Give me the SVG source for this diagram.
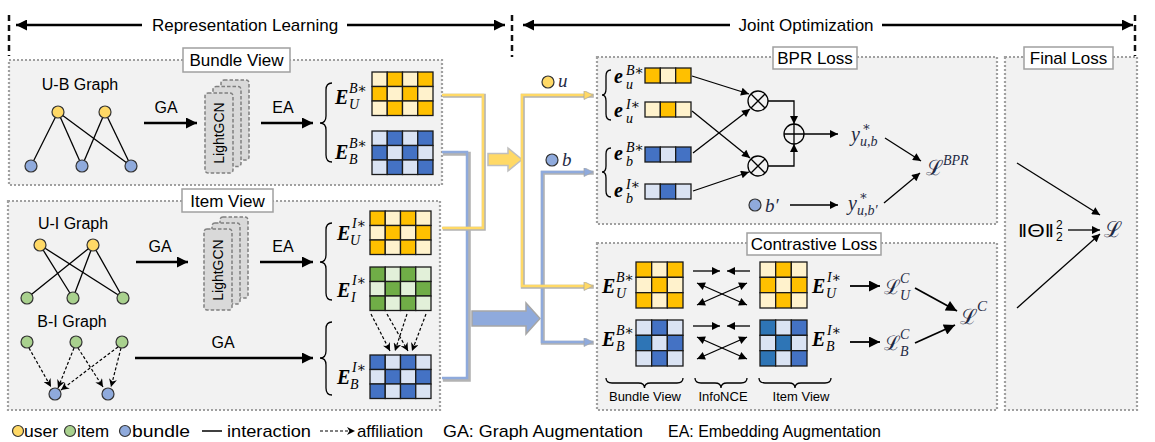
<svg xmlns="http://www.w3.org/2000/svg" width="1155" height="442" viewBox="0 0 1155 442">
<defs>
<style>
.sans{font-family:"Liberation Sans",Arial,sans-serif;fill:#000}
.panel{fill:#f2f2f2;stroke:#a0a0a0;stroke-width:2.2;stroke-dasharray:2 2}
.lbox{fill:#fff;stroke:#a0a0a0;stroke-width:1.5}
.lt{font-size:17px;text-anchor:middle}
.E{font-family:"Liberation Serif","Times New Roman",serif;font-weight:bold;font-style:italic;font-size:20px;fill:#000}
.mi{font-family:"Liberation Serif","DejaVu Serif",serif;font-style:italic;fill:#000}
.sc{font-family:"DejaVu Serif","Liberation Serif",serif;fill:#1f2a44}
.nv{fill:#1f2a44}
.c{stroke:#1a1a1a;stroke-width:1.3}
.G{fill:#FFC000}.Gl{fill:#FFF2CC}.B{fill:#4472C4}.Bl{fill:#DAE3F3}.B2{fill:#2E75B6}.R{fill:#70AD47}.Rl{fill:#E2F0D9}
.nu{fill:#FFD966;stroke:#333;stroke-width:1.2}
.ni{fill:#A9D18E;stroke:#333;stroke-width:1.2}
.nb{fill:#8FAADC;stroke:#333;stroke-width:1.2}
.edge{stroke:#000;stroke-width:1.3;fill:none}
.dash{stroke:#000;stroke-width:1.2;stroke-dasharray:3 2;fill:none}
.thick{stroke:#000;stroke-width:2.5;fill:none}
.med{stroke:#000;stroke-width:1.8;fill:none}
.thin{stroke:#000;stroke-width:1.3;fill:none}
.gcn{fill:#d9d9d9;stroke:#7f7f7f;stroke-width:1.5;stroke-dasharray:3.5 2}
.brace{fill:none;stroke:#000;stroke-width:1.3}
.vdash{stroke:#111;stroke-width:2.5;stroke-dasharray:6 4}
.shadow{fill:none;stroke:#b3b3b3;stroke-width:4}
.yl{fill:none;stroke:#FFD966;stroke-width:2.5}
.bl{fill:none;stroke:#8FAADC;stroke-width:2.5}
</style>
<marker id="a1" viewBox="0 0 10 10" refX="10" refY="5" markerUnits="userSpaceOnUse" markerWidth="15" markerHeight="11" orient="auto-start-reverse"><path d="M0,0L10,5L0,10z" fill="#000"/></marker>
<marker id="a2" viewBox="0 0 10 10" refX="10" refY="5" markerUnits="userSpaceOnUse" markerWidth="11" markerHeight="8" orient="auto-start-reverse"><path d="M0,0L10,5L0,10z" fill="#000"/></marker>
<marker id="a3" viewBox="0 0 10 10" refX="10" refY="5" markerUnits="userSpaceOnUse" markerWidth="10" markerHeight="8" orient="auto-start-reverse"><path d="M0,0L10,5L0,10L3,5z" fill="#000"/></marker>
<marker id="ay" viewBox="0 0 10 10" refX="10" refY="5" markerUnits="userSpaceOnUse" markerWidth="12" markerHeight="9" orient="auto-start-reverse"><path d="M0,0L10,5L0,10z" fill="#FFD966" stroke="#a6a6a6" stroke-width="0.8"/></marker>
<marker id="ab" viewBox="0 0 10 10" refX="10" refY="5" markerUnits="userSpaceOnUse" markerWidth="12" markerHeight="9" orient="auto-start-reverse"><path d="M0,0L10,5L0,10z" fill="#8FAADC" stroke="#a6a6a6" stroke-width="0.8"/></marker>
</defs>
<rect width="1155" height="442" fill="#fff"/>

<g id="headers">
<line class="vdash" x1="9" y1="15" x2="9" y2="56"/>
<line class="vdash" x1="512" y1="15" x2="512" y2="57"/>
<line class="vdash" x1="1135" y1="15" x2="1135" y2="56"/>
<line class="thick" x1="142" y1="25" x2="16" y2="25" marker-end="url(#a1)"/>
<line class="thick" x1="347" y1="25" x2="505" y2="25" marker-end="url(#a1)"/>
<line class="thick" x1="730" y1="25" x2="523" y2="25" marker-end="url(#a1)"/>
<line class="thick" x1="882" y1="25" x2="1133" y2="25" marker-end="url(#a1)"/>
<text class="sans" x="245" y="31" font-size="17" text-anchor="middle">Representation Learning</text>
<text class="sans" x="806" y="31" font-size="17" text-anchor="middle">Joint Optimization</text>
</g>

<g id="bundle-view">
<rect class="panel" x="9" y="60" width="433" height="125"/>
<rect class="lbox" x="183" y="48" width="107" height="24"/>
<text class="sans lt" x="236.5" y="66">Bundle View</text>
<text class="sans" x="80" y="90" font-size="16" text-anchor="middle">U-B Graph</text>
</g>
<g id="item-view">
<rect class="panel" x="8" y="201" width="432" height="209"/>
<rect class="lbox" x="182" y="189" width="91" height="23"/>
<text class="sans lt" x="227.5" y="207">Item View</text>
<text class="sans" x="73" y="229" font-size="16" text-anchor="middle">U-I Graph</text>
<text class="sans" x="72" y="327" font-size="16" text-anchor="middle">B-I Graph</text>
</g>
<g id="bpr-loss">
<rect class="panel" x="597" y="57" width="400" height="167"/>
<rect class="lbox" x="773" y="47" width="84" height="22"/>
<text class="sans lt" x="815" y="64">BPR Loss</text>
</g>
<g id="contrastive-loss">
<rect class="panel" x="597" y="243" width="400" height="167"/>
<rect class="lbox" x="747" y="233" width="134" height="22"/>
<text class="sans lt" x="814" y="250">Contrastive Loss</text>
</g>
<g id="final-loss">
<rect class="panel" x="1005" y="57" width="132" height="353"/>
<rect class="lbox" x="1024" y="47" width="89" height="22"/>
<text class="sans lt" x="1068.5" y="64">Final Loss</text>
</g>

<g id="connectors">
<line class="edge" x1="58" y1="112" x2="31" y2="166"/>
<line class="edge" x1="58" y1="112" x2="82" y2="166"/>
<line class="edge" x1="58" y1="112" x2="131" y2="166"/>
<line class="edge" x1="105" y1="112" x2="82" y2="166"/>
<line class="edge" x1="105" y1="112" x2="131" y2="166"/>
<line class="edge" x1="40" y1="245" x2="73" y2="298"/>
<line class="edge" x1="40" y1="245" x2="123" y2="298"/>
<line class="edge" x1="93" y1="245" x2="27" y2="298"/>
<line class="edge" x1="93" y1="245" x2="73" y2="298"/>
<line class="edge" x1="93" y1="245" x2="123" y2="298"/>
<line class="dash" x1="29" y1="348" x2="51" y2="387" marker-end="url(#a3)"/>
<line class="dash" x1="74" y1="348" x2="58" y2="388" marker-end="url(#a3)"/>
<line class="dash" x1="78" y1="348" x2="103" y2="387" marker-end="url(#a3)"/>
<line class="dash" x1="118" y1="347" x2="61" y2="390" marker-end="url(#a3)"/>
<line class="dash" x1="121" y1="348" x2="111" y2="387" marker-end="url(#a3)"/>
<line class="thick" x1="144" y1="123" x2="197" y2="123" marker-end="url(#a1)"/>
<line class="thick" x1="261" y1="123" x2="313" y2="123" marker-end="url(#a1)"/>
<line class="thick" x1="136" y1="262" x2="188" y2="262" marker-end="url(#a1)"/>
<line class="thick" x1="260" y1="262" x2="313" y2="262" marker-end="url(#a1)"/>
<line class="thick" x1="135" y1="358" x2="313" y2="358" marker-end="url(#a1)"/>
<line class="dash" x1="371" y1="314" x2="390" y2="351" marker-end="url(#a3)"/>
<line class="dash" x1="387" y1="314" x2="408" y2="351" marker-end="url(#a3)"/>
<line class="dash" x1="407" y1="314" x2="395" y2="351" marker-end="url(#a3)"/>
<line class="dash" x1="426" y1="314" x2="412" y2="351" marker-end="url(#a3)"/>
<path class="shadow" d="M442,153 H468 V379 H442" transform="translate(0.8,0.8)"/>
<path class="bl" d="M442,152 H467 V378 H442"/>
<path class="shadow" d="M442,95 H483 V228 H442" transform="translate(0.8,0.8)"/>
<path class="yl" d="M442,95 H483 V228 H442"/>
<path d="M472,311 H526 V303 L540,318.5 L526,334 V326 H472 Z" fill="#8FAADC" stroke="#a6a6a6" stroke-width="1.5"/>
<path d="M488,153.5 H508 V148 L522,159.5 L508,171 V165.5 H488 Z" fill="#FFD966" stroke="#bfbfbf" stroke-width="1.5"/>
<path class="shadow" d="M593,172 H542 V342 H593" transform="translate(0.8,0.8)"/>
<path class="bl" d="M593,172 H542 V342 H593" marker-start="url(#ab)" marker-end="url(#ab)"/>
<path class="shadow" d="M593,95 H522 V286 H593" transform="translate(0.8,0.8)"/>
<path class="yl" d="M593,95 H522 V286 H593" marker-start="url(#ay)" marker-end="url(#ay)"/>
<line class="thin" x1="692" y1="76" x2="749" y2="94" marker-end="url(#a2)"/>
<line class="thin" x1="692" y1="111" x2="750" y2="158" marker-end="url(#a2)"/>
<line class="thin" x1="693" y1="153" x2="750" y2="109" marker-end="url(#a2)"/>
<line class="thin" x1="693" y1="191" x2="749" y2="172" marker-end="url(#a2)"/>
<path class="thin" d="M768,101 H794 V124" marker-end="url(#a2)"/>
<path class="thin" d="M768,166 H794 V144" marker-end="url(#a2)"/>
<line class="thin" x1="804" y1="134" x2="838" y2="134" marker-end="url(#a2)"/>
<line class="thin" x1="790" y1="205" x2="838" y2="205" marker-end="url(#a2)"/>
<line class="thin" x1="885" y1="138" x2="921" y2="161" marker-end="url(#a2)"/>
<line class="thin" x1="884" y1="203" x2="920" y2="173" marker-end="url(#a2)"/>
<line class="thin" x1="693" y1="271" x2="720" y2="271" marker-end="url(#a2)"/>
<line class="thin" x1="750" y1="271" x2="727" y2="271" marker-end="url(#a2)"/>
<line class="thin" x1="697" y1="283" x2="747" y2="305" marker-start="url(#a2)" marker-end="url(#a2)"/>
<line class="thin" x1="697" y1="305" x2="747" y2="283" marker-start="url(#a2)" marker-end="url(#a2)"/>
<line class="thin" x1="693" y1="326" x2="720" y2="326" marker-end="url(#a2)"/>
<line class="thin" x1="750" y1="326" x2="727" y2="326" marker-end="url(#a2)"/>
<line class="thin" x1="697" y1="337" x2="747" y2="359" marker-start="url(#a2)" marker-end="url(#a2)"/>
<line class="thin" x1="697" y1="359" x2="747" y2="337" marker-start="url(#a2)" marker-end="url(#a2)"/>
<line class="med" x1="850" y1="286" x2="880" y2="286" marker-end="url(#a1)"/>
<line class="med" x1="850" y1="342" x2="880" y2="342" marker-end="url(#a1)"/>
<line class="med" x1="915" y1="288" x2="957" y2="311" marker-end="url(#a1)"/>
<line class="med" x1="915" y1="343" x2="955" y2="325" marker-end="url(#a1)"/>
<line class="thin" x1="1017" y1="163" x2="1100" y2="215" marker-end="url(#a2)"/>
<line class="thin" x1="1017" y1="308" x2="1100" y2="234" marker-end="url(#a2)"/>
<line class="thin" x1="1068" y1="230" x2="1100" y2="230" marker-end="url(#a2)"/>
</g>

<g id="ub-graph-nodes">
<circle class="nu" cx="58" cy="112" r="6"/><circle class="nu" cx="105" cy="112" r="6"/>
<circle class="nb" cx="31" cy="166" r="6"/><circle class="nb" cx="82" cy="166" r="6"/><circle class="nb" cx="131" cy="166" r="6"/>
</g>
<g id="ui-graph-nodes">
<circle class="nu" cx="40" cy="245" r="6"/><circle class="nu" cx="93" cy="245" r="6"/>
<circle class="ni" cx="27" cy="298" r="6"/><circle class="ni" cx="73" cy="298" r="6"/><circle class="ni" cx="123" cy="298" r="6"/>
</g>
<g id="bi-graph-nodes">
<circle class="ni" cx="27" cy="342" r="6"/><circle class="ni" cx="76" cy="342" r="6"/><circle class="ni" cx="122" cy="342" r="6"/>
<circle class="nb" cx="55" cy="394" r="6"/><circle class="nb" cx="108" cy="394" r="6"/>
</g>

<g id="aug-labels" class="sans" font-size="16" text-anchor="middle">
<text x="166" y="113">GA</text><text x="283" y="113">EA</text>
<text x="160" y="252">GA</text><text x="283" y="252">EA</text>
<text x="223" y="348">GA</text>
</g>

<g id="lightgcn-1">
<rect class="gcn" x="221" y="80" width="28" height="80" rx="3"/>
<rect class="gcn" x="213" y="86.5" width="28" height="80" rx="3"/>
<rect class="gcn" x="205" y="93" width="28" height="80" rx="3"/>
<text class="sans" font-size="14" text-anchor="middle" transform="translate(224,133) rotate(-90)">LightGCN</text>
</g>
<g id="lightgcn-2">
<rect class="gcn" x="220" y="217" width="28" height="81" rx="3"/>
<rect class="gcn" x="212" y="223" width="28" height="81" rx="3"/>
<rect class="gcn" x="204" y="229" width="28" height="81" rx="3"/>
<text class="sans" font-size="14" text-anchor="middle" transform="translate(223,270) rotate(-90)">LightGCN</text>
</g>

<g id="braces">
<path class="brace" d="M332,83 Q326,83 326,90 V116 Q326,123 320,123 Q326,123 326,130 V155 Q326,162 332,162"/>
<path class="brace" d="M332,223 Q326,223 326,230 V255 Q326,262 320,262 Q326,262 326,269 V293 Q326,300 332,300"/>
<path class="brace" d="M332,322 Q326,322 326,329 V351 Q326,358 320,358 Q326,358 326,365 V388 Q326,395 332,395"/>
<path class="brace" d="M611,70 Q606,70 606,76 V89 Q606,95 602,95 Q606,95 606,101 V114 Q606,120 611,120"/>
<path class="brace" d="M611,148 Q606,148 606,154 V166 Q606,172 602,172 Q606,172 606,178 V191 Q606,197 611,197"/>
<path class="brace" d="M606,378 Q606,383 612,383 H638.5 Q644.5,383 644.5,388 Q644.5,383 650.5,383 H677 Q683,383 683,378"/>
<path class="brace" d="M695,378 Q695,383 701,383 H715 Q721,383 721,388 Q721,383 727,383 H741 Q747,383 747,378"/>
<path class="brace" d="M759,378 Q759,383 765,383 H789 Q795,383 795,388 Q795,383 801,383 H825 Q831,383 831,378"/>
<g class="sans" font-size="13" text-anchor="middle">
<text x="645" y="401">Bundle View</text><text x="723" y="401">InfoNCE</text><text x="801" y="401">Item View</text>
</g>
</g>

<g id="emb-UB" transform="translate(372,72)">
<rect class="c Gl" x="0" y="0" width="15.25" height="14.5"/><rect class="c G" x="15.25" y="0" width="15.25" height="14.5"/><rect class="c Gl" x="30.5" y="0" width="15.25" height="14.5"/><rect class="c G" x="45.75" y="0" width="15.25" height="14.5"/>
<rect class="c G" x="0" y="14.5" width="15.25" height="14.5"/><rect class="c Gl" x="15.25" y="14.5" width="15.25" height="14.5"/><rect class="c G" x="30.5" y="14.5" width="15.25" height="14.5"/><rect class="c Gl" x="45.75" y="14.5" width="15.25" height="14.5"/>
<rect class="c Gl" x="0" y="29" width="15.25" height="14.5"/><rect class="c G" x="15.25" y="29" width="15.25" height="14.5"/><rect class="c Gl" x="30.5" y="29" width="15.25" height="14.5"/><rect class="c G" x="45.75" y="29" width="15.25" height="14.5"/>
</g>
<g id="emb-BB" transform="translate(372,131)">
<rect class="c Bl" x="0" y="0" width="15.25" height="14.5"/><rect class="c B" x="15.25" y="0" width="15.25" height="14.5"/><rect class="c Bl" x="30.5" y="0" width="15.25" height="14.5"/><rect class="c B" x="45.75" y="0" width="15.25" height="14.5"/>
<rect class="c B" x="0" y="14.5" width="15.25" height="14.5"/><rect class="c Bl" x="15.25" y="14.5" width="15.25" height="14.5"/><rect class="c B" x="30.5" y="14.5" width="15.25" height="14.5"/><rect class="c Bl" x="45.75" y="14.5" width="15.25" height="14.5"/>
<rect class="c Bl" x="0" y="29" width="15.25" height="14.5"/><rect class="c B" x="15.25" y="29" width="15.25" height="14.5"/><rect class="c Bl" x="30.5" y="29" width="15.25" height="14.5"/><rect class="c B" x="45.75" y="29" width="15.25" height="14.5"/>
</g>
<g id="emb-UI" transform="translate(370,211)">
<rect class="c G" x="0" y="0" width="15.25" height="14.5"/><rect class="c Gl" x="15.25" y="0" width="15.25" height="14.5"/><rect class="c G" x="30.5" y="0" width="15.25" height="14.5"/><rect class="c Gl" x="45.75" y="0" width="15.25" height="14.5"/>
<rect class="c Gl" x="0" y="14.5" width="15.25" height="14.5"/><rect class="c G" x="15.25" y="14.5" width="15.25" height="14.5"/><rect class="c Gl" x="30.5" y="14.5" width="15.25" height="14.5"/><rect class="c G" x="45.75" y="14.5" width="15.25" height="14.5"/>
<rect class="c G" x="0" y="29" width="15.25" height="14.5"/><rect class="c Gl" x="15.25" y="29" width="15.25" height="14.5"/><rect class="c G" x="30.5" y="29" width="15.25" height="14.5"/><rect class="c Gl" x="45.75" y="29" width="15.25" height="14.5"/>
</g>
<g id="emb-II" transform="translate(370,267)">
<rect class="c R" x="0" y="0" width="15.25" height="14.5"/><rect class="c Rl" x="15.25" y="0" width="15.25" height="14.5"/><rect class="c R" x="30.5" y="0" width="15.25" height="14.5"/><rect class="c Rl" x="45.75" y="0" width="15.25" height="14.5"/>
<rect class="c Rl" x="0" y="14.5" width="15.25" height="14.5"/><rect class="c R" x="15.25" y="14.5" width="15.25" height="14.5"/><rect class="c Rl" x="30.5" y="14.5" width="15.25" height="14.5"/><rect class="c R" x="45.75" y="14.5" width="15.25" height="14.5"/>
<rect class="c R" x="0" y="29" width="15.25" height="14.5"/><rect class="c Rl" x="15.25" y="29" width="15.25" height="14.5"/><rect class="c R" x="30.5" y="29" width="15.25" height="14.5"/><rect class="c Rl" x="45.75" y="29" width="15.25" height="14.5"/>
</g>
<g id="emb-BI" transform="translate(370,355)">
<rect class="c B" x="0" y="0" width="15.25" height="14.5"/><rect class="c Bl" x="15.25" y="0" width="15.25" height="14.5"/><rect class="c B" x="30.5" y="0" width="15.25" height="14.5"/><rect class="c Bl" x="45.75" y="0" width="15.25" height="14.5"/>
<rect class="c Bl" x="0" y="14.5" width="15.25" height="14.5"/><rect class="c B" x="15.25" y="14.5" width="15.25" height="14.5"/><rect class="c Bl" x="30.5" y="14.5" width="15.25" height="14.5"/><rect class="c B" x="45.75" y="14.5" width="15.25" height="14.5"/>
<rect class="c B" x="0" y="29" width="15.25" height="14.5"/><rect class="c Bl" x="15.25" y="29" width="15.25" height="14.5"/><rect class="c B" x="30.5" y="29" width="15.25" height="14.5"/><rect class="c Bl" x="45.75" y="29" width="15.25" height="14.5"/>
</g>

<g id="emb-labels">
<text><tspan class="E" x="335" y="104">E</tspan><tspan class="mi" font-size="14" x="349" y="93">B∗</tspan><tspan class="mi" font-size="14" x="349" y="109">U</tspan></text>
<text><tspan class="E" x="335" y="159">E</tspan><tspan class="mi" font-size="14" x="349" y="148">B∗</tspan><tspan class="mi" font-size="14" x="349" y="164">B</tspan></text>
<text><tspan class="E" x="337" y="240">E</tspan><tspan class="mi" font-size="14" x="352" y="228">I∗</tspan><tspan class="mi" font-size="14" x="350" y="245">U</tspan></text>
<text><tspan class="E" x="337" y="297">E</tspan><tspan class="mi" font-size="14" x="352" y="285">I∗</tspan><tspan class="mi" font-size="14" x="351" y="302">I</tspan></text>
<text><tspan class="E" x="337" y="384">E</tspan><tspan class="mi" font-size="14" x="352" y="372">I∗</tspan><tspan class="mi" font-size="14" x="350" y="389">B</tspan></text>
</g>

<g id="node-u"><circle class="nu" cx="548" cy="82" r="6"/><text class="mi nv" x="558" y="87" font-size="19">u</text></g>
<g id="node-b"><circle class="nb" cx="552" cy="160" r="6"/><text class="mi nv" x="562" y="166" font-size="19">b</text></g>

<g id="vec-uB" transform="translate(645,68)">
<rect class="c G" x="0" y="0" width="15.33" height="15"/><rect class="c Gl" x="15.33" y="0" width="15.33" height="15"/><rect class="c G" x="30.67" y="0" width="15.33" height="15"/>
</g>
<g id="vec-uI" transform="translate(645,102)">
<rect class="c Gl" x="0" y="0" width="15.33" height="15"/><rect class="c G" x="15.33" y="0" width="15.33" height="15"/><rect class="c Gl" x="30.67" y="0" width="15.33" height="15"/>
</g>
<g id="vec-bB" transform="translate(645,147)">
<rect class="c B" x="0" y="0" width="15.33" height="15"/><rect class="c Bl" x="15.33" y="0" width="15.33" height="15"/><rect class="c B" x="30.67" y="0" width="15.33" height="15"/>
</g>
<g id="vec-bI" transform="translate(645,184)">
<rect class="c Bl" x="0" y="0" width="15.33" height="15"/><rect class="c B" x="15.33" y="0" width="15.33" height="15"/><rect class="c Bl" x="30.67" y="0" width="15.33" height="15"/>
</g>
<g id="bpr-labels">
<text><tspan class="E" x="614" y="83">e</tspan><tspan class="mi" font-size="14" x="626" y="75">B∗</tspan><tspan class="mi" font-size="14" x="626" y="89">u</tspan></text>
<text><tspan class="E" x="614" y="117">e</tspan><tspan class="mi" font-size="14" x="626" y="109">I∗</tspan><tspan class="mi" font-size="14" x="626" y="123">u</tspan></text>
<text><tspan class="E" x="614" y="160">e</tspan><tspan class="mi" font-size="14" x="626" y="152">B∗</tspan><tspan class="mi" font-size="14" x="626" y="166">b</tspan></text>
<text><tspan class="E" x="614" y="197">e</tspan><tspan class="mi" font-size="14" x="626" y="189">I∗</tspan><tspan class="mi" font-size="14" x="626" y="203">b</tspan></text>
</g>
<g id="otimes-1"><circle cx="758" cy="101" r="10" fill="none" stroke="#000" stroke-width="1.3"/><path class="thin" d="M751,94 L765,108 M765,94 L751,108"/></g>
<g id="otimes-2"><circle cx="758" cy="166" r="10" fill="none" stroke="#000" stroke-width="1.3"/><path class="thin" d="M751,159 L765,173 M765,159 L751,173"/></g>
<g id="oplus"><circle cx="794" cy="134" r="10" fill="none" stroke="#000" stroke-width="1.3"/><path class="thin" d="M784,134 H804 M794,124 V144"/></g>
<g id="score-ub"><text><tspan class="mi nv" font-size="20" x="851" y="141">y</tspan><tspan class="mi nv" font-size="13" x="862" y="131">∗</tspan><tspan class="mi nv" font-size="14" x="860" y="146">u,b</tspan></text></g>
<g id="node-bneg"><circle class="nb" cx="755" cy="205" r="6"/><text class="mi nv" x="765" y="212" font-size="19">b′</text></g>
<g id="score-ubneg"><text><tspan class="mi nv" font-size="20" x="848" y="210">y</tspan><tspan class="mi nv" font-size="13" x="859" y="200">∗</tspan><tspan class="mi nv" font-size="14" x="857" y="215">u,b′</tspan></text></g>
<g id="loss-bpr"><text><tspan class="sc" font-size="21" x="926" y="175">ℒ</tspan><tspan class="mi nv" font-size="14" x="943" y="165">BPR</tspan></text></g>

<g id="cl-UB" transform="translate(636,262)">
<rect class="c G" x="0" y="0" width="15.67" height="15.33"/><rect class="c Gl" x="15.67" y="0" width="15.67" height="15.33"/><rect class="c G" x="31.33" y="0" width="15.67" height="15.33"/>
<rect class="c Gl" x="0" y="15.33" width="15.67" height="15.33"/><rect class="c G" x="15.67" y="15.33" width="15.67" height="15.33"/><rect class="c Gl" x="31.33" y="15.33" width="15.67" height="15.33"/>
<rect class="c G" x="0" y="30.67" width="15.67" height="15.33"/><rect class="c Gl" x="15.67" y="30.67" width="15.67" height="15.33"/><rect class="c G" x="31.33" y="30.67" width="15.67" height="15.33"/>
</g>
<g id="cl-BB" transform="translate(636,320)">
<rect class="c Bl" x="0" y="0" width="15.67" height="15.33"/><rect class="c B" x="15.67" y="0" width="15.67" height="15.33"/><rect class="c Bl" x="31.33" y="0" width="15.67" height="15.33"/>
<rect class="c B2" x="0" y="15.33" width="15.67" height="15.33"/><rect class="c Bl" x="15.67" y="15.33" width="15.67" height="15.33"/><rect class="c B" x="31.33" y="15.33" width="15.67" height="15.33"/>
<rect class="c Bl" x="0" y="30.67" width="15.67" height="15.33"/><rect class="c B" x="15.67" y="30.67" width="15.67" height="15.33"/><rect class="c Bl" x="31.33" y="30.67" width="15.67" height="15.33"/>
</g>
<g id="cl-UI" transform="translate(760,262)">
<rect class="c Gl" x="0" y="0" width="15.67" height="15.33"/><rect class="c G" x="15.67" y="0" width="15.67" height="15.33"/><rect class="c Gl" x="31.33" y="0" width="15.67" height="15.33"/>
<rect class="c G" x="0" y="15.33" width="15.67" height="15.33"/><rect class="c Gl" x="15.67" y="15.33" width="15.67" height="15.33"/><rect class="c G" x="31.33" y="15.33" width="15.67" height="15.33"/>
<rect class="c Gl" x="0" y="30.67" width="15.67" height="15.33"/><rect class="c G" x="15.67" y="30.67" width="15.67" height="15.33"/><rect class="c Gl" x="31.33" y="30.67" width="15.67" height="15.33"/>
</g>
<g id="cl-BI" transform="translate(760,320)">
<rect class="c B2" x="0" y="0" width="15.67" height="15.33"/><rect class="c Bl" x="15.67" y="0" width="15.67" height="15.33"/><rect class="c B" x="31.33" y="0" width="15.67" height="15.33"/>
<rect class="c Bl" x="0" y="15.33" width="15.67" height="15.33"/><rect class="c B2" x="15.67" y="15.33" width="15.67" height="15.33"/><rect class="c Bl" x="31.33" y="15.33" width="15.67" height="15.33"/>
<rect class="c B2" x="0" y="30.67" width="15.67" height="15.33"/><rect class="c Bl" x="15.67" y="30.67" width="15.67" height="15.33"/><rect class="c B" x="31.33" y="30.67" width="15.67" height="15.33"/>
</g>
<g id="cl-labels">
<text><tspan class="E" x="602" y="293">E</tspan><tspan class="mi" font-size="14" x="616" y="282">B∗</tspan><tspan class="mi" font-size="14" x="616" y="298">U</tspan></text>
<text><tspan class="E" x="602" y="346">E</tspan><tspan class="mi" font-size="14" x="616" y="335">B∗</tspan><tspan class="mi" font-size="14" x="616" y="351">B</tspan></text>
<text><tspan class="E" x="812" y="293">E</tspan><tspan class="mi" font-size="14" x="827" y="282">I∗</tspan><tspan class="mi" font-size="14" x="826" y="298">U</tspan></text>
<text><tspan class="E" x="812" y="346">E</tspan><tspan class="mi" font-size="14" x="827" y="335">I∗</tspan><tspan class="mi" font-size="14" x="826" y="351">B</tspan></text>
</g>
<g id="loss-cu"><text><tspan class="sc" font-size="20" x="884" y="294">ℒ</tspan><tspan class="mi nv" font-size="14" x="900" y="283">C</tspan><tspan class="mi nv" font-size="14" x="900" y="300">U</tspan></text></g>
<g id="loss-cb"><text><tspan class="sc" font-size="20" x="884" y="350">ℒ</tspan><tspan class="mi nv" font-size="14" x="900" y="339">C</tspan><tspan class="mi nv" font-size="14" x="900" y="356">B</tspan></text></g>
<g id="loss-c"><text><tspan class="sc" font-size="21" x="960" y="324">ℒ</tspan><tspan class="mi nv" font-size="15" x="977" y="311">C</tspan></text></g>

<g id="reg-term"><text class="sans" font-size="18" x="1018" y="237" textLength="36" lengthAdjust="spacingAndGlyphs">‖Θ‖</text><text class="sans" font-size="12" x="1056" y="229">2</text><text class="sans" font-size="12" x="1056" y="241">2</text></g>
<g id="loss-final"><text class="sc" font-size="22" x="1104" y="237">ℒ</text></g>

<g id="legend" class="sans" font-size="17">
<circle class="nu" cx="18" cy="431" r="5.5"/><text x="24" y="437" textLength="34" lengthAdjust="spacingAndGlyphs">user</text>
<circle class="ni" cx="70" cy="431" r="5.5"/><text x="77" y="437" textLength="32" lengthAdjust="spacingAndGlyphs">item</text>
<circle class="nb" cx="125" cy="431" r="5.5"/><text x="132" y="437" textLength="58" lengthAdjust="spacingAndGlyphs">bundle</text>
<line x1="202" y1="431" x2="222" y2="431" stroke="#000" stroke-width="1.5"/>
<text x="227" y="437" textLength="84" lengthAdjust="spacingAndGlyphs">interaction</text>
<line class="dash" x1="320" y1="431" x2="355" y2="431" marker-end="url(#a3)"/>
<text x="357" y="437" textLength="66" lengthAdjust="spacingAndGlyphs">affiliation</text>
<text x="443" y="437" textLength="200" lengthAdjust="spacingAndGlyphs">GA: Graph Augmentation</text>
<text x="668" y="437" textLength="213" lengthAdjust="spacingAndGlyphs">EA: Embedding Augmentation</text>
</g>
</svg>
